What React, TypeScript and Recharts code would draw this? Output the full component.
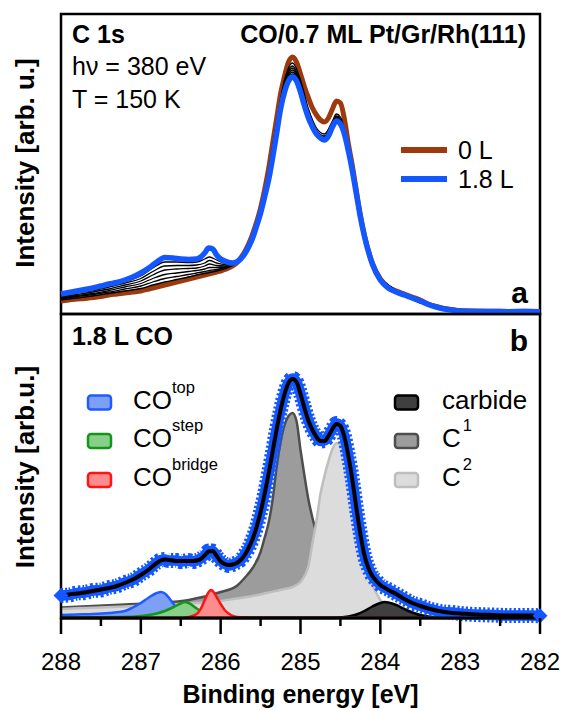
import React from "react";
import { Area, ComposedChart, Line, ReferenceArea, Scatter, XAxis, YAxis } from "recharts";

const FONT = '"Liberation Sans", Arial, Helvetica, sans-serif';

const BROWN = "#9c3a0e";
const BLUE = "#1257ff";

// ---- panel a: C 1s spectra during CO dosing (intensity, arb. u.) ----
const energyA = [
  288.0, 287.9, 287.8, 287.7, 287.6, 287.5, 287.4, 287.3, 287.2, 287.1,
  287.0, 286.9, 286.8, 286.7, 286.6, 286.5, 286.4, 286.3, 286.25, 286.2,
  286.15, 286.1, 286.05, 286.0, 285.95, 285.9, 285.85, 285.8, 285.75, 285.7,
  285.65, 285.6, 285.55, 285.5, 285.45, 285.4, 285.35, 285.3, 285.25, 285.2,
  285.15, 285.1, 285.05, 285.0, 284.95, 284.9, 284.85, 284.8, 284.75, 284.7,
  284.65, 284.6, 284.55, 284.5, 284.45, 284.4, 284.35, 284.3, 284.25, 284.2,
  284.1, 284.0, 283.9, 283.8, 283.7, 283.6, 283.5, 283.4, 283.3, 283.2,
  283.1, 283.0, 282.8, 282.6, 282.4, 282.2, 282.0,
];
const dose0L = [
  13, 14, 15, 15.5, 16.5, 17.5, 19, 20, 21, 22,
  23, 25, 27, 29, 31, 33, 35, 37, 38, 39,
  40, 41, 42, 43, 44.5, 46, 48, 51, 56, 62,
  70, 80, 92, 106, 124, 145, 170, 195, 220, 238,
  252, 257, 252, 240, 227, 216, 206, 199, 194, 192,
  196, 205, 213, 211, 195, 170, 148, 123, 99, 79,
  51, 35, 27, 23, 20, 17, 14, 10, 7.5, 5.5,
  4.5, 3.5, 3, 2.8, 2.6, 2.7, 2.5,
];
const dose18L = [
  20, 21.5, 23, 24.5, 26, 28, 30, 31.5, 34, 37,
  41, 46, 52, 56.5, 56, 55, 54.5, 55, 57, 61,
  66, 65, 59, 55, 53, 51.5, 51, 52, 55, 60,
  67, 76, 88, 101, 117, 134, 156, 180, 205, 222,
  233, 237, 233, 222, 208, 196, 187, 180, 176, 174,
  178, 187, 193, 190, 180, 163, 143, 120, 97, 78,
  50, 34, 26, 22, 19, 16, 13, 9.5, 7, 5,
  4, 3, 2.5, 2.5, 2.3, 2.4, 2.3,
];

// intermediate exposures (black curves)
const energyK = [
  288.0, 287.8, 287.6, 287.4, 287.2, 287.0, 286.85, 286.7, 286.55, 286.4,
  286.3, 286.2, 286.14, 286.05, 285.95, 285.85, 285.75, 285.6, 285.5, 285.4,
  285.3, 285.2, 285.1, 285.0, 284.9, 284.8, 284.7, 284.6, 284.55, 284.5,
  284.4, 284.3, 284.2, 284.0, 283.0, 282.0,
];
const doseStep1 = [
  14, 16, 18, 20.5, 23, 25.5, 29, 32, 34.5, 37,
  39, 40.5, 41.5, 43, 45, 48.5, 56, 79, 105, 143,
  192, 234, 251, 234, 205, 186, 180, 193, 200, 197,
  166, 122, 78.5, 34.5, 3.2, 2.5,
];
const doseStep2 = [
  15, 17.5, 19.5, 22, 25, 28, 32, 35.5, 37.5, 39.5,
  41, 42.5, 43.5, 44.5, 46, 49, 55.5, 78.5, 104, 141,
  190, 232, 248, 231, 202, 184, 178, 191, 198, 195,
  165.5, 121.5, 78.5, 34.5, 3.2, 2.5,
];
const doseStep3 = [
  16, 18.5, 20.5, 23.5, 27, 30.5, 35.5, 39.5, 41, 42.5,
  43.5, 45, 46.5, 46.5, 47, 49.5, 55.5, 78, 103.5, 139,
  188, 230, 246, 229, 200, 183, 177, 190, 197, 194,
  165, 121, 78.5, 34.5, 3.2, 2.5,
];
const doseStep4 = [
  17, 19.5, 22, 25, 29, 33, 39, 44, 45, 45.5,
  46, 48, 50, 48.5, 48, 50, 55.5, 77.5, 103, 138,
  186, 228, 244, 227, 199, 182, 176, 189, 196, 193,
  164.5, 121, 78.5, 34.5, 3.2, 2.5,
];
const doseStep5 = [
  18, 21, 23.5, 27, 31, 35.5, 42.5, 48, 48.5, 48.5,
  49, 51, 53.5, 51, 49.5, 50.5, 55, 77, 102, 136,
  184, 226, 242, 225, 198, 181, 175.5, 188.5, 195, 192,
  164, 120.5, 78.5, 34.5, 3.2, 2.5,
];
const doseStep6 = [
  19, 22, 25, 28.5, 32.5, 38, 46, 52, 52, 51.5,
  52, 55, 57, 54, 51, 51, 55, 76.5, 101.5, 135,
  182, 224, 240, 224, 197, 181, 175, 188, 194.5, 191,
  163.5, 120, 78.5, 34.5, 3.2, 2.5,
];

// ---- panel b: 1.8 L CO, measured data + fit ----
const energyB = [
  288.0, 287.9, 287.8, 287.7, 287.6, 287.5, 287.4, 287.3, 287.2, 287.1,
  287.0, 286.9, 286.8, 286.75, 286.7, 286.65, 286.6, 286.55, 286.5, 286.45,
  286.4, 286.35, 286.3, 286.25, 286.2, 286.15, 286.1, 286.05, 286.0, 285.95,
  285.9, 285.85, 285.8, 285.75, 285.7, 285.65, 285.6, 285.55, 285.5, 285.45,
  285.4, 285.35, 285.3, 285.25, 285.2, 285.15, 285.1, 285.05, 285.0, 284.95,
  284.9, 284.85, 284.8, 284.75, 284.7, 284.65, 284.6, 284.55, 284.5, 284.45,
  284.4, 284.35, 284.3, 284.25, 284.2, 284.15, 284.1, 284.05, 284.0, 283.95,
  283.9, 283.8, 283.7, 283.6, 283.5, 283.4, 283.3, 283.2, 283.1, 283.0,
  282.8, 282.6, 282.4, 282.2, 282.0,
];
const measuredB = [
  22.5, 23, 25, 25.5, 27.5, 28, 30.5, 32, 35.5, 38,
  43.5, 48.5, 55.5, 58, 58.5, 57.5, 57.5, 57.5, 56.5, 57,
  57.5, 56.5, 57.5, 59.5, 62.5, 67, 67, 61.5, 57, 54,
  52.5, 53.5, 55.5, 58, 63.5, 70, 79.5, 91, 106.5, 124,
  144.5, 166, 188.5, 208, 224.5, 235.5, 239.5, 236, 224.5, 210,
  197.5, 188, 181.5, 177, 177.5, 182, 189.5, 194.5, 192, 181.5,
  162, 138.5, 110, 84.5, 63, 50.5, 42, 37.5, 33, 30.5,
  28.5, 24, 19.5, 15, 12.5, 9.5, 7.5, 6, 5.5, 4.5,
  3.5, 3, 2.5, 2.5, 2.3,
];
const fitB = [
  22, 23.5, 24.5, 25.5, 27, 28.5, 30, 32, 35, 38.5,
  43, 48.5, 55, 57.5, 58.5, 58, 57.5, 57, 57, 57,
  57, 57, 57.5, 59, 62.5, 66.5, 67, 62, 56.5, 54,
  53, 53.5, 55, 58, 63, 70, 79, 91, 106, 124,
  144, 166, 188, 208, 224, 235, 239, 236, 224, 210,
  197, 188, 181, 177, 177, 182, 189, 194, 192, 181,
  162, 138, 110, 84, 63, 50, 42, 37, 33, 30.5,
  28, 24, 19, 15, 12, 9.5, 7.5, 6, 5, 4.5,
  3.5, 3, 2.5, 2.5, 2.3,
];

// fit components
const c1E = [
  288.0, 287.6, 287.2, 286.8, 286.4, 286.0, 285.8, 285.7, 285.6, 285.5,
  285.45, 285.4, 285.35, 285.3, 285.25, 285.2, 285.15, 285.1, 285.05, 285.0,
  284.95, 284.9, 284.85, 284.8, 284.75, 284.7, 284.6, 284.5, 284.4, 284.2,
  284.0, 283.0, 282.0,
];
const c1I = [
  10.5, 12, 13.5, 15, 18, 26, 32, 40, 50, 66,
  80, 95, 118, 150, 176, 193, 202, 205, 197, 168,
  142, 118, 100, 84, 64, 46, 22, 10, 4, 1.5,
  0.8, 0.3, 0.2,
];
const c2E = [
  288.0, 287.6, 287.2, 286.8, 286.4, 286.0, 285.8, 285.6, 285.4, 285.2,
  285.1, 285.0, 284.95, 284.9, 284.85, 284.8, 284.75, 284.7, 284.65, 284.6,
  284.55, 284.5, 284.45, 284.4, 284.35, 284.3, 284.25, 284.2, 284.15, 284.1,
  284.05, 284.0, 283.95, 283.9, 283.8, 283.7, 283.5, 283.0, 282.0,
];
const c2I = [
  9, 10.3, 11.6, 12.8, 14.5, 17, 19.5, 22, 25.5, 29,
  31, 36, 42, 52, 75, 97, 124, 142, 157, 169,
  175, 173, 161, 142, 122, 94, 72, 55, 42, 33,
  25, 18, 13, 9, 4, 1.5, 0.5, 0, 0,
];
const carbideE = [288.0, 284.6, 284.4, 284.3, 284.2, 284.1, 284.0, 283.95, 283.9, 283.8, 283.7, 283.6, 283.5, 283.4, 283.2, 282.0];
const carbideI = [0, 0, 1.5, 3.5, 7, 11.5, 15, 16, 15.5, 13, 9, 5.5, 3, 1.5, 0.5, 0];
const coTopE = [288.0, 287.8, 287.6, 287.4, 287.2, 287.1, 287.0, 286.9, 286.8, 286.75, 286.7, 286.65, 286.6, 286.55, 286.5, 286.4, 286.3, 286.1, 285.8, 282.0];
const coTopI = [3, 3.5, 4, 5, 7, 10.5, 15, 20.5, 25, 26, 24.5, 20.5, 15, 10, 6, 2.5, 1, 0.4, 0, 0];
const coStepE = [288.0, 287.2, 287.0, 286.9, 286.8, 286.7, 286.6, 286.5, 286.45, 286.4, 286.3, 286.2, 286.1, 286.0, 285.8, 285.5, 282.0];
const coStepI = [0.5, 1, 2, 3, 4.5, 7, 10.5, 14.5, 16, 15, 9.5, 5, 2, 1, 0.5, 0.2, 0.2];
const coBridgeE = [288.0, 286.5, 286.4, 286.3, 286.25, 286.2, 286.15, 286.12, 286.1, 286.05, 286.0, 285.95, 285.9, 285.85, 285.8, 285.6, 282.0];
const coBridgeI = [0, 0, 1, 4, 9, 18, 26, 28, 27, 21, 14, 8, 4.5, 2, 1, 0.3, 0];

const energyTicks = [288, 287.5, 287, 286.5, 286, 285.5, 285, 284.5, 284, 283.5, 283, 282.5, 282];

const COMPONENTS = [
  { name: "top", stroke: "#1f5bff", fill: "#7e9ff6" },
  { name: "step", stroke: "#12961c", fill: "#88cf88" },
  { name: "bridge", stroke: "#ff1414", fill: "#ff8c8c" },
  { name: "carbide", stroke: "#000000", fill: "#3f3f3f" },
  { name: "1", stroke: "#4e4e4e", fill: "#9c9c9c" },
  { name: "2", stroke: "#bebebe", fill: "#dcdcdc" },
];

const pts = (e: number[], v: number[]) => e.map((x, i) => ({ e: x, v: v[i] }));

function EnergyTick(props: any) {
  const { x, y, payload } = props;
  const major = Number.isInteger(payload.value);
  return (
    <g>
      <line x1={x} x2={x} y1={y} y2={y + (major ? 16 : 8)} stroke="#000" strokeWidth={2.5} />
      {major && (
        <text x={x} y={y + 52} textAnchor="middle" fontSize={24} fontFamily={FONT} fill="#000">
          {payload.value}
        </text>
      )}
    </g>
  );
}

function DiamondShape(props: any) {
  const { cx, cy } = props;
  const r = 7.5;
  return <polygon points={`${cx},${cy - r} ${cx + r},${cy} ${cx},${cy + r} ${cx - r},${cy}`} fill={BLUE} />;
}

function PanelA() {
  const blacks = [doseStep1, doseStep2, doseStep3, doseStep4, doseStep5, doseStep6];
  return (
    <ComposedChart width={563} height={316} margin={{ top: 14, right: 23, bottom: 2, left: 0 }}>
      <XAxis dataKey="e" type="number" domain={[282, 288]} reversed hide />
      <YAxis type="number" domain={[0, 300]} width={61} tick={false} tickLine={false} axisLine={false} />
      <Line data={pts(energyA, dose0L)} dataKey="v" type="monotone" stroke={BROWN} strokeWidth={5} dot={false} isAnimationActive={false} />
      {blacks.map((b, i) => (
        <Line key={i} data={pts(energyK, b)} dataKey="v" type="monotone" stroke="#000" strokeWidth={1.3} dot={false} isAnimationActive={false} />
      ))}
      <Line data={pts(energyA, dose18L)} dataKey="v" type="monotone" stroke={BLUE} strokeWidth={5.5} dot={false} isAnimationActive={false} />
      <ReferenceArea x1={288} x2={282} y1={0} y2={300} fill="none" stroke="#000" strokeWidth={2.5} ifOverflow="visible" />
    </ComposedChart>
  );
}

function PanelB() {
  const areas = [
    { e: c1E, v: c1I, c: COMPONENTS[4] },
    { e: c2E, v: c2I, c: COMPONENTS[5] },
    { e: carbideE, v: carbideI, c: COMPONENTS[3] },
    { e: coTopE, v: coTopI, c: COMPONENTS[0] },
    { e: coStepE, v: coStepI, c: COMPONENTS[1] },
    { e: coBridgeE, v: coBridgeI, c: COMPONENTS[2] },
  ];
  const measured = pts(energyB, measuredB);
  const ends = [measured[0], measured[measured.length - 1]];
  return (
    <ComposedChart width={563} height={410} margin={{ top: 14, right: 23, bottom: 0, left: 0 }}>
      <XAxis
        dataKey="e"
        type="number"
        domain={[282, 288]}
        reversed
        ticks={energyTicks}
        interval={0}
        tick={(p: any) => <EnergyTick {...p} />}
        tickLine={false}
        tickSize={0}
        tickMargin={0}
        height={92}
        axisLine={{ stroke: "#000", strokeWidth: 3 }}
      />
      <YAxis type="number" domain={[0, 304]} width={61} tick={false} tickLine={false} axisLine={false} />
      {areas.map((a) => (
        <Area
          key={a.c.name}
          data={pts(a.e, a.v)}
          dataKey="v"
          type="monotone"
          stroke={a.c.stroke}
          strokeWidth={2.5}
          fill={a.c.fill}
          fillOpacity={1}
          isAnimationActive={false}
        />
      ))}
      {/* measured points: dense diamond markers merge into a serrated band */}
      <Line data={measured} dataKey="v" type="monotone" stroke={BLUE} strokeWidth={10.5} strokeLinejoin="round" dot={false} isAnimationActive={false} />
      <Line data={measured} dataKey="v" type="monotone" stroke={BLUE} strokeWidth={15} strokeDasharray="2.2 2.2" dot={false} isAnimationActive={false} />
      <Scatter data={ends} dataKey="v" shape={(p: any) => <DiamondShape {...p} />} isAnimationActive={false} />
      <Line data={pts(energyB, fitB)} dataKey="v" type="monotone" stroke="#000" strokeWidth={4} dot={false} isAnimationActive={false} />
      <ReferenceArea x1={288} x2={282} y1={0} y2={304} fill="none" stroke="#000" strokeWidth={2.5} ifOverflow="visible" />
    </ComposedChart>
  );
}

function LegendBox({ x, y, c }: { x: number; y: number; c: { stroke: string; fill: string } }) {
  return <rect x={x} y={y - 7} width={23} height={14} rx={3} fill={c.fill} stroke={c.stroke} strokeWidth={2.5} />;
}

function Overlay() {
  const rows = [402.5, 441, 480];
  const left = [COMPONENTS[0], COMPONENTS[1], COMPONENTS[2]];
  const right = [COMPONENTS[3], COMPONENTS[4], COMPONENTS[5]];
  return (
    <svg width={563} height={710} style={{ position: "absolute", left: 0, top: 0, pointerEvents: "none" }} fontFamily={FONT} fill="#000">
      {/* panel a annotations */}
      <text x={72} y={43} fontSize={25} fontWeight="bold">C 1s</text>
      <text x={526} y={43} fontSize={25} fontWeight="bold" textAnchor="end">CO/0.7 ML Pt/Gr/Rh(111)</text>
      <text x={72} y={75} fontSize={25}>hν = 380 eV</text>
      <text x={72} y={108} fontSize={25}>T = 150 K</text>
      <text x={528} y={303} fontSize={30} fontWeight="bold" textAnchor="end">a</text>
      <line x1={401} x2={447} y1={150} y2={150} stroke={BROWN} strokeWidth={6} />
      <line x1={401} x2={447} y1={179} y2={179} stroke={BLUE} strokeWidth={6} />
      <text x={458} y={159} fontSize={25}>0 L</text>
      <text x={458} y={188} fontSize={25}>1.8 L</text>

      {/* panel b annotations */}
      <text x={72} y={345} fontSize={25} fontWeight="bold">1.8 L CO</text>
      <text x={528} y={351} fontSize={30} fontWeight="bold" textAnchor="end">b</text>
      {rows.map((ry, i) => (
        <g key={i}>
          <LegendBox x={88} y={ry} c={left[i]} />
          <text x={133} y={ry + 6} fontSize={26}>
            CO<tspan dy={-15.6} fontSize={16.5}>{left[i].name}</tspan>
          </text>
          <LegendBox x={395} y={ry} c={right[i]} />
          {i === 0 ? (
            <text x={442} y={ry + 6} fontSize={26}>carbide</text>
          ) : (
            <text x={442} y={ry + 6} fontSize={26}>
              C<tspan dx={2} dy={-15.6} fontSize={16.5}>{right[i].name}</tspan>
            </text>
          )}
        </g>
      ))}

      {/* axis titles */}
      <text transform="translate(33.5,163) rotate(-90)" fontSize={26} fontWeight="bold" textAnchor="middle">Intensity [arb. u.]</text>
      <text transform="translate(33.5,467) rotate(-90)" fontSize={26} fontWeight="bold" textAnchor="middle">Intensity [arb.u.]</text>
      <text x={300.5} y={703} fontSize={25} fontWeight="bold" textAnchor="middle">Binding energy [eV]</text>
    </svg>
  );
}

export default function App() {
  return (
    <div style={{ position: "absolute", left: 0, top: 0, width: 563, height: 710, background: "#fff", fontFamily: FONT }}>
      <div style={{ position: "absolute", left: 0, top: 0 }}>
        <PanelA />
      </div>
      <div style={{ position: "absolute", left: 0, top: 300 }}>
        <PanelB />
      </div>
      <Overlay />
    </div>
  );
}
